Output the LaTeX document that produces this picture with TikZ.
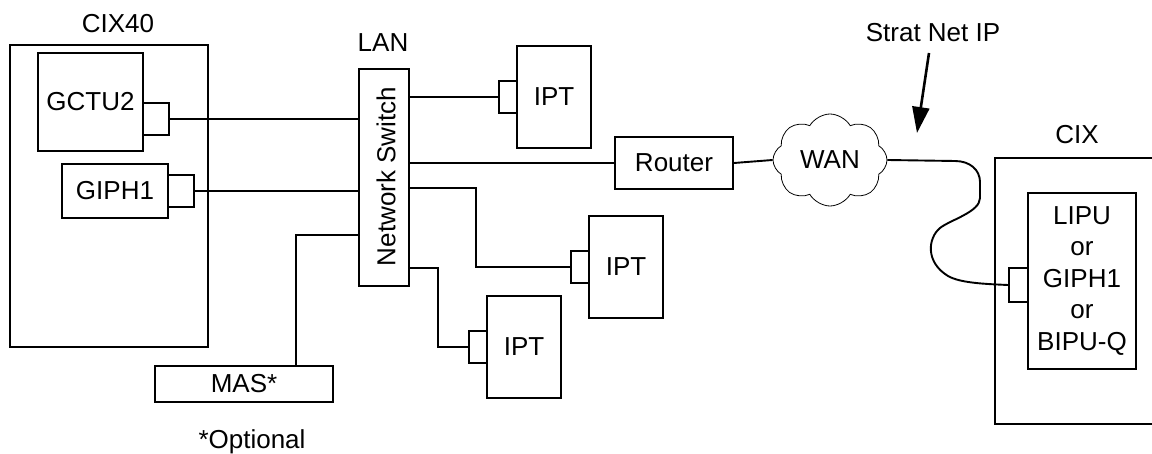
\documentclass[tikz,border=0pt]{standalone}
\usepackage{fontspec}
\setmainfont{Liberation Sans}
\usetikzlibrary{shapes.symbols,arrows.meta}
\begin{document}
\begin{tikzpicture}[x=1pt,y=-1pt,
  box/.style={draw,line width=1.9pt,rectangle,inner sep=0pt,font=\fontsize{26}{31.5}\selectfont},
  port/.style={draw,line width=1.9pt,rectangle,inner sep=0pt},
  lbl/.style={inner sep=0pt,font=\fontsize{26}{31.5}\selectfont},
  wire/.style={line width=1.9pt},
  cloudy/.style={draw,cloud,cloud puffs=8,cloud puff arc=120,aspect=1.3,line width=0.8pt,inner sep=0pt,minimum width=114pt,minimum height=92pt,font=\fontsize{26}{31.5}\selectfont}]
\useasboundingbox (0,0) rectangle (1152,454);
% left cabinet
\node[box,minimum width=198pt,minimum height=302pt] (cix40) at (109,196) {};
\node[lbl] (cix40l) at (118,24) {CIX40};
\node[box,minimum width=105pt,minimum height=98pt] (gctu) at (90.5,102) {GCTU2};
\node[port,minimum width=26pt,minimum height=32pt] (gport) at (156,119) {};
\node[box,minimum width=106pt,minimum height=54pt] (giph) at (115,191) {GIPH1};
\node[port,minimum width=26pt,minimum height=32pt] (hport) at (181,191) {};
% switch
\node[box,minimum width=50pt,minimum height=217pt] (sw) at (384,177.5) {};
\node[lbl,rotate=90] (swl) at (386,176.5) {Network Switch};
\node[lbl] (lan) at (383,43) {LAN};
% MAS
\node[box,minimum width=178pt,minimum height=36pt] (mas) at (244,384) {MAS*};
\node[lbl] (opt) at (252,442) {*Optional};
% IPTs
\node[box,minimum width=74pt,minimum height=102pt] (ipt1) at (554,97) {IPT};
\node[port,minimum width=18pt,minimum height=32pt] (p1) at (508,97) {};
\node[box,minimum width=74pt,minimum height=102pt] (ipt2) at (626,267) {IPT};
\node[port,minimum width=18pt,minimum height=32pt] (p2) at (580,267) {};
\node[box,minimum width=74pt,minimum height=102pt] (ipt3) at (524,347) {IPT};
\node[port,minimum width=18pt,minimum height=32pt] (p3) at (478,347) {};
% router, WAN
\node[box,minimum width=118pt,minimum height=52pt] (router) at (674,163) {Router};
\node[cloudy] (wan) at (830,160) {WAN};
% CIX
\node[box,minimum width=175pt,minimum height=266pt] (cix) at (1082.5,291) {};
\node[lbl] (cixl) at (1077,135) {CIX};
\node[box,minimum width=108pt,minimum height=176pt,align=center] (lipu) at (1082,281) {LIPU\\or\\GIPH1\\or\\BIPU-Q};
\node[port,minimum width=19pt,minimum height=34pt] (lport) at (1018.5,285) {};
\node[lbl] (strat) at (933,33) {Strat Net IP};
% connectors
\draw[wire] (gport.east) -- (gport.east -| sw.west);
\draw[wire] (hport.east) -- (hport.east -| sw.west);
\coordinate (m1) at (296,235);
\draw[wire] (m1 -| sw.west) -- (m1) -- (m1 |- mas.north);
\draw[wire] (sw.east |- p1.west) -- (p1.west);
\draw[wire] (sw.east |- router.west) -- (router.west);
\coordinate (b2) at (476,188);
\draw[wire] (b2 -| sw.east) -- (b2) |- (p2.west);
\coordinate (b3) at (438,268);
\draw[wire] (b3 -| sw.east) -- (b3) |- (p3.west);
\draw[wire] (router.east) -- (wan.west);
\draw[wire] (wan.east) -- (955,161) .. controls (970,161) and (980,170) .. (980,182) -- (980,198) .. controls (980,212) and (950,220) .. (940,228) .. controls (928,238) and (925,262) .. (948,276) .. controls (960,283) and (985,284) .. (lport.west);
\coordinate (a1) at (929,53);
\coordinate (a2) at (917,133);
\draw[line width=2.6pt,-{Triangle[length=26pt,width=17pt]}] (a1) -- (a2);
\end{tikzpicture}
\end{document}
